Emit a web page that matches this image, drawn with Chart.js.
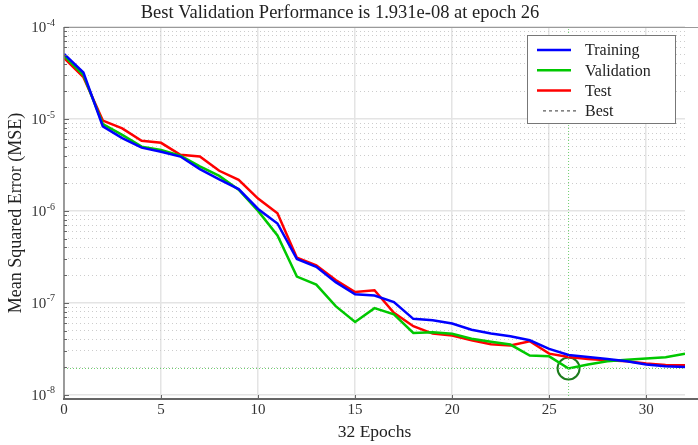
<!DOCTYPE html>
<html lang="en">
<head>
<meta charset="UTF-8">
<title>Best Validation Performance</title>
<script src="https://cdn.jsdelivr.net/npm/chart.js"></script>
<style>
    html, body { margin: 0; padding: 0; background: #fff; }
    #wrap { width: 698px; height: 445px; }
</style>
</head>
<body>
<div id="wrap"><canvas id="perfChart"></canvas></div>
<script>
// values, epochs 0..32
const epochs = [0, 1, 2, 3, 4, 5, 6, 7, 8, 9, 10, 11, 12, 13, 14, 15, 16,
    17, 18, 19, 20, 21, 22, 23, 24, 25, 26, 27, 28, 29, 30, 31, 32];
const trainingMse = [5.1e-5, 3.2e-5, 8.3e-6, 6.2e-6, 4.87e-6, 4.4e-6, 3.9e-6, 2.85e-6,
    2.2e-6, 1.73e-6, 1.05e-6, 7.3e-7, 3.0e-7, 2.47e-7, 1.68e-7, 1.24e-7, 1.2e-7,
    1.02e-7, 6.7e-8, 6.45e-8, 5.96e-8, 5.1e-8, 4.63e-8, 4.33e-8, 3.92e-8, 3.16e-8,
    2.71e-8, 2.58e-8, 2.45e-8, 2.31e-8, 2.13e-8, 2.04e-8, 2.0e-8];
const validationMse = [4.87e-5, 3.0e-5, 8.8e-6, 6.7e-6, 5.0e-6, 4.6e-6, 4.0e-6, 3.05e-6,
    2.4e-6, 1.7e-6, 1.0e-6, 5.4e-7, 1.93e-7, 1.58e-7, 9.2e-8, 6.2e-8, 8.75e-8,
    7.5e-8, 4.7e-8, 4.78e-8, 4.6e-8, 4.07e-8, 3.78e-8, 3.52e-8, 2.67e-8, 2.62e-8,
    1.931e-8, 2.13e-8, 2.31e-8, 2.41e-8, 2.48e-8, 2.56e-8, 2.79e-8];
const testMse = [4.6e-5, 2.85e-5, 9.6e-6, 7.9e-6, 5.8e-6, 5.5e-6, 4.07e-6, 3.9e-6,
    2.73e-6, 2.18e-6, 1.36e-6, 9.4e-7, 3.1e-7, 2.56e-7, 1.77e-7, 1.31e-7, 1.37e-7,
    7.8e-8, 5.57e-8, 4.63e-8, 4.42e-8, 3.92e-8, 3.55e-8, 3.43e-8, 3.82e-8, 2.8e-8,
    2.58e-8, 2.45e-8, 2.37e-8, 2.31e-8, 2.19e-8, 2.11e-8, 2.09e-8];

const bestEpoch = 26;
const bestPerf = 1.931e-8;

const xTicks = [0, 5, 10, 15, 20, 25, 30];
const yDecades = [1e-8, 1e-7, 1e-6, 1e-5, 1e-4];
const yMin = 9e-9;
const yMax = 1e-4;

const titleText = 'Best Validation Performance is 1.931e-08 at epoch 26';
const xTitle = '32 Epochs';
const yTitle = 'Mean Squared Error (MSE)';
const legendItems = [
    { label: 'Training', color: '#0000ff', dash: [] },
    { label: 'Validation', color: '#00c800', dash: [] },
    { label: 'Test', color: '#ff0000', dash: [] },
    { label: 'Best', color: '#333333', dash: [3, 3] }
];

const serif = "'Liberation Serif', 'Times New Roman', serif";

// grid positions: every 1..9 x 10^n between the decades
const yGrid = [];
for (let i = 0; i < yDecades.length - 1; i++) {
    for (let k = 1; k <= 9; k++) yGrid.push(k * yDecades[i]);
}
yGrid.push(yDecades[yDecades.length - 1]);

function isDecade(v) {
    const l = Math.log10(v);
    return Math.abs(l - Math.round(l)) < 1e-6;
}

function pts(ys) {
    return epochs.map((e, i) => ({ x: e, y: ys[i] }));
}

const matlabFrame = {
    id: 'matlabFrame',
    afterDraw(chart) {
        const ctx = chart.ctx;
        const a = chart.chartArea;
        const x = chart.scales.x;
        const y = chart.scales.y;

        function line(x1, y1, x2, y2) {
            ctx.beginPath();
            ctx.moveTo(x1, y1);
            ctx.lineTo(x2, y2);
            ctx.stroke();
        }

        ctx.save();
        ctx.setLineDash([]);

        // box
        ctx.strokeStyle = '#9a9a9a';
        ctx.lineWidth = 1;
        line(a.left, a.top + 0.5, chart.width, a.top + 0.5);
        ctx.strokeStyle = '#808080';
        ctx.lineWidth = 1.5;
        line(a.left, a.top, a.left, a.bottom);
        ctx.strokeStyle = '#666';
        ctx.lineWidth = 2;
        line(a.left - 1, a.bottom, chart.width, a.bottom);

        // inner tick marks
        ctx.strokeStyle = '#666';
        ctx.lineWidth = 1;
        xTicks.forEach(v => {
            const px = Math.round(x.getPixelForValue(v)) + 0.5;
            line(px, a.bottom, px, a.bottom - 4);
        });
        yGrid.forEach(v => {
            const py = Math.round(y.getPixelForValue(v)) + 0.5;
            line(a.left, py, a.left + (isDecade(v) ? 5 : 3), py);
        });

        // y tick labels 10^n
        ctx.fillStyle = '#333';
        ctx.textBaseline = 'middle';
        yDecades.forEach(v => {
            const py = y.getPixelForValue(v);
            const exp = String(Math.round(Math.log10(v)));
            ctx.font = '10px ' + serif;
            ctx.textAlign = 'right';
            const ew = ctx.measureText(exp).width;
            ctx.fillText(exp, 55, py - 4);
            ctx.font = '15px ' + serif;
            ctx.fillText('10', 55 - ew - 0.5, py + 1);
        });

        // title
        ctx.fillStyle = '#222';
        ctx.font = '18.5px ' + serif;
        ctx.textAlign = 'center';
        ctx.fillText(titleText, 340, 13);

        // legend
        const lx = 527, ly = 35, lw = 148, lh = 88;
        ctx.fillStyle = '#fff';
        ctx.fillRect(lx, ly, lw, lh);
        ctx.strokeStyle = '#777';
        ctx.lineWidth = 1;
        ctx.strokeRect(lx + 0.5, ly + 0.5, lw, lh);
        ctx.font = '16px ' + serif;
        ctx.textAlign = 'left';
        legendItems.forEach((it, i) => {
            const ry = ly + 15 + i * 20.3;
            ctx.strokeStyle = it.color;
            ctx.lineWidth = it.dash.length ? 1 : 2.5;
            ctx.setLineDash(it.dash);
            if (it.dash.length) line(lx + 16, ry, lx + 50, ry);
            else line(lx + 10, ry, lx + 44, ry);
            ctx.setLineDash([]);
            ctx.fillStyle = '#222';
            ctx.fillText(it.label, lx + 58, ry + 1);
        });

        ctx.restore();
    }
};

new Chart(document.getElementById('perfChart'), {
    type: 'line',
    data: {
        datasets: [
            {
                label: 'Best epoch',
                data: [{ x: bestEpoch, y: yMin }, { x: bestEpoch, y: yMax }],
                borderColor: '#6fcf6f',
                borderWidth: 1,
                borderDash: [1, 2],
                pointRadius: 0
            },
            {
                label: 'Best goal',
                data: [{ x: epochs[0], y: bestPerf }, { x: epochs[epochs.length - 1], y: bestPerf }],
                borderColor: '#6fcf6f',
                borderWidth: 1,
                borderDash: [1, 2],
                pointRadius: 0
            },
            {
                label: 'Training',
                data: pts(trainingMse),
                borderColor: '#0000ff',
                borderWidth: 2.5,
                pointRadius: 0
            },
            {
                label: 'Validation',
                data: pts(validationMse),
                borderColor: '#00c800',
                borderWidth: 2.5,
                pointRadius: 0
            },
            {
                label: 'Test',
                data: pts(testMse),
                borderColor: '#ff0000',
                borderWidth: 2.5,
                pointRadius: 0
            },
            {
                label: 'Best',
                type: 'scatter',
                data: [{ x: bestEpoch, y: bestPerf }],
                borderColor: '#1c7c1c',
                backgroundColor: 'rgba(0,0,0,0)',
                borderWidth: 2,
                pointRadius: 11
            }
        ]
    },
    options: {
        responsive: true,
        maintainAspectRatio: false,
        animation: false,
        layout: { padding: { top: 27, right: 11, left: 0, bottom: 0 } },
        plugins: {
            legend: { display: false },
            tooltip: { enabled: false },
            title: { display: false }
        },
        elements: { line: { tension: 0 } },
        scales: {
            x: {
                type: 'linear',
                min: 0,
                max: 32,
                afterBuildTicks: s => { s.ticks = xTicks.map(v => ({ value: v })); },
                afterFit: s => { s.height = 46; },
                grid: { color: '#e4e4e4', lineWidth: 1.5, drawTicks: false },
                border: { display: false },
                ticks: {
                    padding: 2,
                    color: '#333',
                    font: { family: serif, size: 15 },
                    callback: v => String(v)
                },
                title: {
                    display: true,
                    text: xTitle,
                    color: '#222',
                    font: { family: serif, size: 17.5 },
                    padding: { top: 0, bottom: 2.5 }
                }
            },
            y: {
                type: 'logarithmic',
                min: yMin,
                max: yMax,
                afterBuildTicks: s => { s.ticks = yGrid.map(v => ({ value: v })); },
                afterFit: s => { s.width = 64; },
                grid: {
                    drawTicks: false,
                    color: c => (c.tick && isDecade(c.tick.value)) ? '#e4e4e4' : '#cccccc',
                    lineWidth: c => (c.tick && isDecade(c.tick.value)) ? 1.5 : 1
                },
                border: {
                    display: false,
                    dash: c => (c.tick && !isDecade(c.tick.value)) ? [1, 3] : []
                },
                ticks: { display: false },
                title: {
                    display: true,
                    text: yTitle,
                    color: '#222',
                    font: { family: serif, size: 18 },
                    padding: { top: 5, bottom: 0 }
                }
            }
        }
    },
    plugins: [matlabFrame]
});
</script>
</body>
</html>
